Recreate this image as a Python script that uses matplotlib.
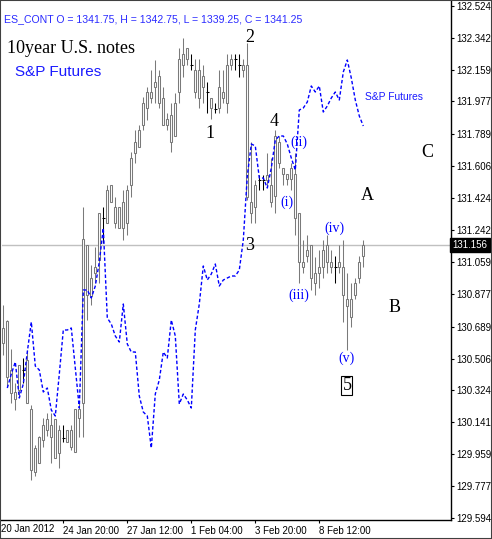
import matplotlib
matplotlib.use('Agg')
import matplotlib.pyplot as plt
import numpy as np
from matplotlib.patches import Rectangle
from matplotlib.transforms import blended_transform_factory

plt.rcParams['font.family'] = ['Liberation Sans', 'DejaVu Sans']

# 10 year note, H4 bars (open, high, low, close)
opens = [130.595, 130.721, 130.440, 130.274, 130.326, 130.440, 130.497, 130.217, 129.856, 129.908,
         130.039, 130.097, 130.125, 130.160, 129.965, 130.051, 130.028, 130.097, 129.971, 130.165,
         130.251, 131.156, 130.864, 130.995, 131.070, 131.310, 131.282, 131.499, 131.373, 131.253,
         131.402, 131.282, 131.499, 131.682, 131.717, 131.843, 131.940, 132.031, 132.060, 132.123,
         131.997, 131.843, 131.900, 131.780, 132.031, 132.249, 132.220, 132.186, 132.157, 131.997,
         132.123, 132.031, 131.997, 131.934, 131.940, 132.031, 131.968, 132.186, 132.220, 132.186,
         132.157, 132.186, 131.402, 131.373, 131.528, 131.528, 131.528, 131.499, 131.436, 131.745,
         131.596, 131.562, 131.533, 131.562, 131.339, 131.058, 131.093, 131.156, 130.995, 130.995,
         131.030, 131.156, 131.058, 131.030, 131.030, 131.030, 130.847, 130.744, 130.869, 130.967,
         131.093]
highs = [130.812, 130.726, 130.560, 130.366, 130.469, 130.509, 130.555, 130.240, 130.011, 130.062,
         130.165, 130.194, 130.194, 130.160, 130.125, 130.125, 130.097, 130.125, 130.217, 130.251,
         131.373, 131.156, 131.041, 131.144, 131.339, 131.373, 131.499, 131.499, 131.430, 131.373,
         131.470, 131.499, 131.688, 131.814, 131.843, 132.003, 132.060, 132.157, 132.215, 132.157,
         132.060, 131.911, 131.968, 132.026, 132.283, 132.341, 132.283, 132.249, 132.220, 132.220,
         132.186, 132.089, 131.997, 131.968, 132.157, 132.157, 132.249, 132.249, 132.249, 132.249,
         132.220, 132.312, 131.745, 131.528, 131.556, 131.556, 131.682, 131.654, 131.814, 131.780,
         131.596, 131.562, 131.625, 131.682, 131.339, 131.184, 131.213, 131.156, 131.087, 131.127,
         131.184, 131.213, 131.127, 131.093, 131.156, 131.184, 130.995, 130.938, 130.967, 131.093,
         131.184]
lows = [130.526, 130.343, 130.251, 130.211, 130.286, 130.366, 130.251, 129.811, 129.833, 129.908,
        129.999, 130.062, 129.908, 129.936, 129.879, 130.028, 130.028, 129.982, 129.971, 130.057,
        130.057, 130.726, 130.812, 130.938, 130.938, 131.167, 131.282, 131.402, 131.253, 131.253,
        131.184, 131.213, 131.430, 131.625, 131.717, 131.814, 131.871, 131.968, 131.968, 131.940,
        131.843, 131.814, 131.688, 131.780, 131.968, 132.117, 132.186, 132.157, 131.997, 131.940,
        131.968, 131.911, 131.877, 131.911, 131.911, 131.968, 131.911, 132.157, 132.157, 132.117,
        132.117, 131.413, 131.282, 131.282, 131.470, 131.470, 131.488, 131.373, 131.339, 131.596,
        131.499, 131.499, 131.470, 131.213, 130.938, 130.995, 131.058, 130.898, 130.869, 130.909,
        130.967, 130.995, 130.995, 130.938, 130.995, 130.715, 130.555, 130.686, 130.847, 130.938,
        131.030]
closes = [130.681, 130.400, 130.308, 130.314, 130.469, 130.440, 130.251, 129.868, 129.994, 130.057,
          130.125, 130.160, 130.057, 129.936, 130.097, 130.051, 130.097, 129.999, 130.217, 130.217,
          131.190, 130.869, 130.967, 131.030, 131.339, 131.310, 131.470, 131.402, 131.282, 131.373,
          131.253, 131.470, 131.654, 131.745, 131.814, 131.968, 132.031, 131.997, 132.089, 131.968,
          131.843, 131.877, 131.745, 131.968, 132.220, 132.186, 132.283, 132.186, 132.031, 132.157,
          132.060, 132.031, 131.940, 131.934, 132.060, 131.997, 132.186, 132.220, 132.220, 132.186,
          132.186, 131.430, 131.339, 131.499, 131.528, 131.528, 131.556, 131.402, 131.780, 131.625,
          131.562, 131.533, 131.596, 131.310, 131.058, 131.030, 131.127, 130.967, 130.938, 131.030,
          131.127, 131.058, 131.030, 131.030, 131.058, 130.869, 130.806, 130.847, 130.938, 131.058,
          131.156]

# S&P futures close on the same bars (own scale)
spx = [np.nan, 1308.50, 1310.25, 1311.75, 1307.25, 1309.00, 1313.00, 1316.75, 1311.25, 1310.75,
       1308.00, 1308.50, 1305.75, 1305.00, 1310.25, 1315.75, 1315.75, 1316.00, 1311.00, 1306.00,
       1320.75, 1320.75, 1319.75, 1321.25, 1324.25, 1328.50, 1317.25, 1316.50, 1315.00, 1314.25,
       1319.00, 1314.00, 1313.00, 1313.00, 1307.50, 1305.50, 1305.00, 1301.00, 1307.75, 1309.50,
       1313.00, 1312.25, 1317.00, 1315.00, 1306.50, 1307.75, 1307.00, 1306.00, 1315.75, 1319.00,
       1323.75, 1322.00, 1322.75, 1324.00, 1321.25, 1322.00, 1322.25, 1322.50, 1322.50, 1323.25,
       1327.00, 1335.00, 1339.00, 1338.75, 1334.75, 1334.75, 1333.50, 1336.00, 1339.50, 1340.00,
       1340.00, 1339.00, 1337.25, 1335.75, 1343.25, 1343.50, 1344.25, 1346.25, 1345.50, 1346.25,
       1343.00, 1343.75, 1344.75, 1345.50, 1344.50, 1348.00, 1349.50, 1347.25, 1344.50, 1342.50,
       1341.25]

yticks = [132.524, 132.342, 132.159, 131.977, 131.789, 131.606, 131.424, 131.242, 131.059,
          130.877, 130.689, 130.506, 130.324, 130.141, 129.959, 129.777, 129.594]
xtick_pos = [15, 31, 47, 63, 79]
xtick_lab = ['24 Jan 20:00', '27 Jan 12:00', '1 Feb 04:00', '3 Feb 20:00', '8 Feb 12:00']
last_price = 131.156

wave_labels = [('1', 51.7, 131.768), ('2', 61.7, 132.318), ('3', 61.7, 131.127), ('4', 67.7, 131.837),
               ('A', 90.9, 131.413), ('B', 97.7, 130.772), ('C', 105.9, 131.659)]
sub_labels = [('(i)', 70.9, 131.402), ('(ii)', 73.9, 131.745), ('(iii)', 73.9, 130.869),
              ('(iv)', 82.9, 131.253), ('(v)', 85.7, 130.509)]

W, H = 492, 539
fig = plt.figure(figsize=(W / 100, H / 100), dpi=100)
ax = fig.add_axes([1.5 / W, 19 / H, 449.5 / W, 519 / H])
# S&P overlay axis, created first so it does not move the price ticks
ax2 = ax.twinx()

o = np.array(opens); h = np.array(highs); l = np.array(lows); c = np.array(closes)
x = np.arange(len(o))
doji = o == c
gray = '#7a7a7a'

ax.axhline(last_price, color='#c0c0c0', lw=1, zorder=1)

nd = ~doji
ax.vlines(x[nd], l[nd], h[nd], color=gray, lw=0.75, zorder=2)
lo_b = np.minimum(o, c); hi_b = np.maximum(o, c)
ax.bar(x[nd], hi_b[nd] - lo_b[nd], bottom=lo_b[nd], width=0.5, color='white',
       edgecolor=gray, lw=0.75, zorder=3)
ax.vlines(x[doji], l[doji], h[doji], color='black', lw=0.75, zorder=3)
ax.hlines(o[doji], x[doji] - 0.4, x[doji] + 0.4, color='black', lw=0.75, zorder=3)

ax.set_xlim(-0.45, 111.925)
ax.set_ylim(129.582, 132.552)

for s in ['left', 'top']:
    ax.spines[s].set_visible(False)
for s in ['right', 'bottom']:
    ax.spines[s].set_linewidth(1.0)
    ax.spines[s].set_color('black')

ax2.plot(x, spx, color='#0000ff', lw=1.0, dashes=(2.5, 1.6), zorder=4)
ax2.set_ylim(1292.0, 1356.875)
ax2.set_yticks([])
for s in ax2.spines.values():
    s.set_visible(False)

ax.yaxis.tick_right()
ax.set_yticks(yticks)
ax.set_yticklabels(['%.3f' % v for v in yticks], fontsize=7)
for lab in ax.get_yticklabels():
    lab.set_ha('left')
ax.tick_params(axis='y', which='both', left=False, right=True, labelleft=False, labelright=True,
               direction='out', length=2.4, width=0.8, pad=1.5)
ax.set_xticks(xtick_pos)
ax.set_xticklabels(xtick_lab, fontsize=7, ha='left')
ax.tick_params(axis='x', direction='out', length=2.5, width=0.8, pad=1.5)

for t, xi, yi in wave_labels:
    ax.text(xi, yi, t, family='Liberation Serif', fontsize=13, ha='center', va='baseline', zorder=6)
ax.text(85.9, 130.326, '5', family='Liberation Serif', fontsize=13, ha='center', va='baseline', zorder=6,
        bbox=dict(boxstyle='square,pad=0.05', fc='none', ec='black', lw=0.8))
for t, xi, yi in sub_labels:
    ax.text(xi, yi, t, family='Liberation Serif', fontsize=10, color='#0000ff',
            ha='center', va='center', zorder=6)

tr = blended_transform_factory(ax.transAxes, ax.transData)
ax.text(1.004, last_price, '%.3f' % last_price, transform=tr, fontsize=7, color='white',
        ha='left', va='center', clip_on=False, zorder=7,
        bbox=dict(boxstyle='square,pad=0.25', fc='black', ec='black'))

fig.text(1 / W, 1 - 532 / H, '20 Jan 2012', fontsize=7, ha='left', va='baseline')
fig.text(4 / W, 1 - 22.5 / H, 'ES_CONT O = 1341.75, H = 1342.75, L = 1339.25, C = 1341.25',
         fontsize=7.6, color='#2b2bff', ha='left', va='baseline')
fig.text(7 / W, 1 - 52.7 / H, '10year U.S. notes', family='Liberation Serif', fontsize=13,
         ha='left', va='baseline')
fig.text(15 / W, 1 - 76 / H, 'S&P Futures', fontsize=11, color='#1a1aff', ha='left', va='baseline')
fig.text(365 / W, 1 - 100.5 / H, 'S&P Futures', fontsize=7.4, color='#1a1aff', ha='left', va='baseline')

fig.add_artist(Rectangle((0, 0), 1, 1, transform=fig.transFigure, fill=False, ec='#404040', lw=1.5))

fig.savefig('out.png', dpi=100)
